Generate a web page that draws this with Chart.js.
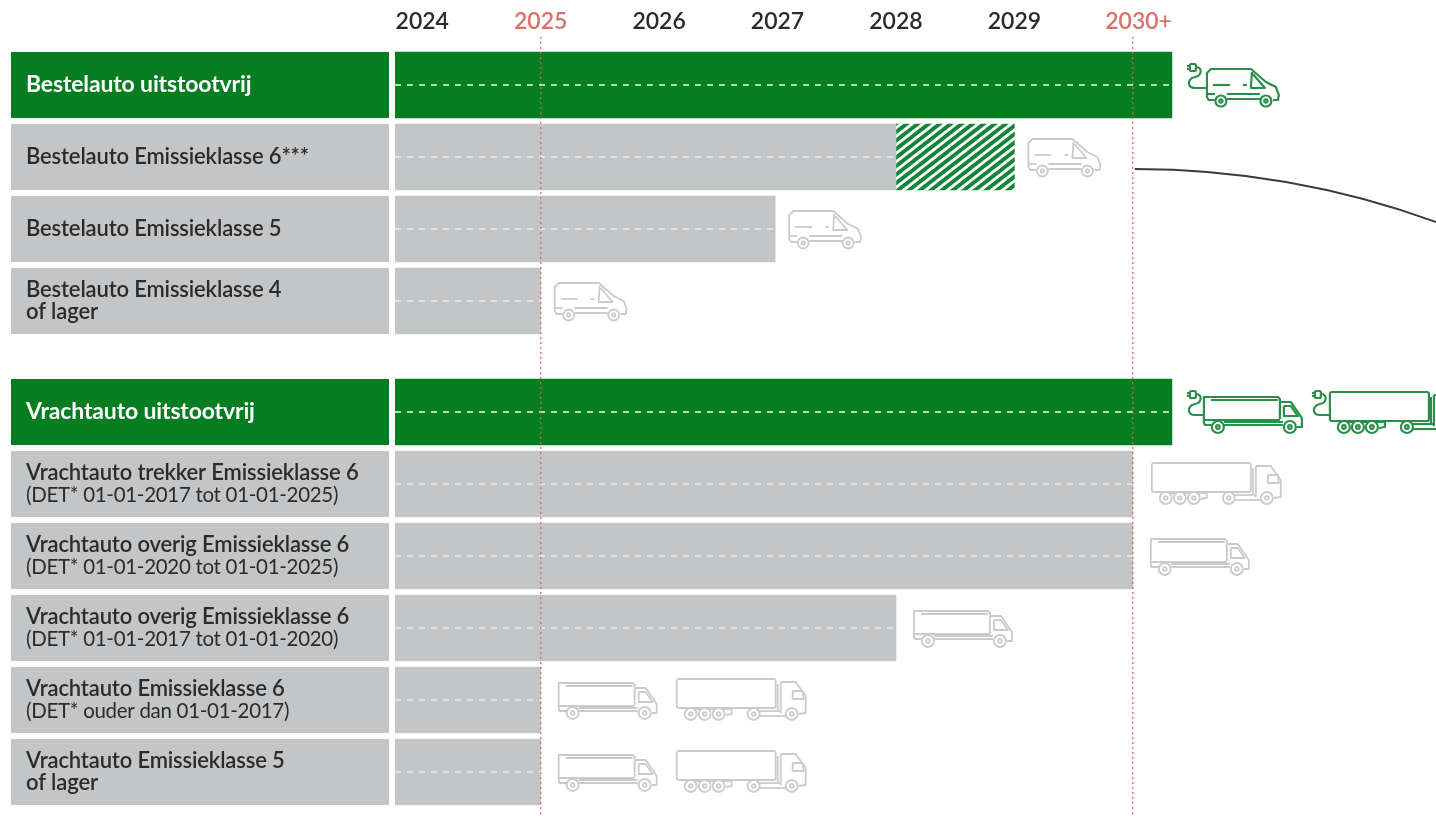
<!DOCTYPE html>
<html lang="nl">
<head>
    <meta charset="UTF-8">
    <title>Uitstootvrije zones - toegang per voertuig</title>
    <style>
        body {
            margin: 0;
            background-color: #ffffff;
            overflow: hidden;
        }
        canvas { display: block; }
    </style>
</head>
<body>
<canvas id="zoneChart" width="1436" height="816"></canvas>

<script src="https://cdn.jsdelivr.net/npm/chart.js"></script>
<script>
    const categories = [
        ['Bestelauto uitstootvrij'],
        ['Bestelauto Emissieklasse 6***'],
        ['Bestelauto Emissieklasse 5'],
        ['Bestelauto Emissieklasse 4', 'of lager'],
        ['Vrachtauto uitstootvrij'],
        ['Vrachtauto trekker Emissieklasse 6', '(DET* 01-01-2017 tot 01-01-2025)'],
        ['Vrachtauto overig Emissieklasse 6', '(DET* 01-01-2020 tot 01-01-2025)'],
        ['Vrachtauto overig Emissieklasse 6', '(DET* 01-01-2017 tot 01-01-2020)'],
        ['Vrachtauto Emissieklasse 6', '(DET* ouder dan 01-01-2017)'],
        ['Vrachtauto Emissieklasse 5', 'of lager']
    ];
    const rowGroup = [0, 0, 0, 0, 1, 1, 1, 1, 1, 1];
    const zeroEmission = [true, false, false, false, true, false, false, false, false, false];

    // laatste jaar van toegang per rij
    const accessUntil = [2030.33, 2028, 2026.98, 2025, 2030.33, 2030, 2030, 2028, 2025, 2025];
    const hatchedRow = 1;
    const hatchedUntil = 2029;

    const years = [2024, 2025, 2026, 2027, 2028, 2029, 2030];
    const yearLabels = ['2024', '2025', '2026', '2027', '2028', '2029', '\u20022030+'];
    const markedYears = [2025, 2030];

    const rowIcons = [
        ['evVan'], ['van'], ['van'], ['van'],
        ['evTruck', 'evTractor'], ['tractor'], ['truck'], ['truck'],
        ['truck', 'tractor'], ['truck', 'tractor']
    ];

    const GREEN = '#067d20';
    const GREY = '#c4c5c7';
    const RED = 'rgba(214, 98, 92, 0.8)';
    const ICON_GREY = '#cbcbcb';
    const ICON_GREEN = '#2a8f4a';

    const AXIS_START = 2023.77;
    const AXIS_END = 2032.56;
    const GROUP_GAP = 0.5417;
    const BAR_HEIGHT = 66;

    const rowSlots = rowGroup.map((g, i) => i + g * GROUP_GAP);

    // schuine groene strepen voor de overgangsperiode
    function hatchPattern() {
        const tile = document.createElement('canvas');
        tile.width = 22;
        tile.height = 17;
        const c = tile.getContext('2d');
        c.fillStyle = '#ffffff';
        c.fillRect(0, 0, 22, 17);
        c.strokeStyle = '#12853a';
        c.lineWidth = 3.8;
        [-33, -22, -11, 0, 11, 22, 33].forEach(d => {
            c.beginPath();
            c.moveTo(d - 22, 34);
            c.lineTo(d + 44, -17);
            c.stroke();
        });
        return c.createPattern(tile, 'repeat');
    }

    function line(c, pts) {
        c.beginPath();
        pts.forEach((p, i) => i ? c.lineTo(p[0], p[1]) : c.moveTo(p[0], p[1]));
        c.stroke();
    }

    function wheel(c, x, y, r) {
        c.save();
        c.fillStyle = '#ffffff';
        c.beginPath();
        c.arc(x, y, r, 0, Math.PI * 2);
        c.fill();
        c.stroke();
        c.beginPath();
        c.arc(x, y, r * 0.3, 0, Math.PI * 2);
        c.stroke();
        c.restore();
    }

    // pictogrammen: x links, cy midden van de rij
    function drawVan(c, x, cy) {
        c.save();
        c.translate(x, cy - 19);
        line(c, [[9, 32], [3, 32], [1, 29], [1, 5], [5, 1], [45, 1], [60, 14], [70, 19], [73, 27], [72, 32], [67, 32]]);
        line(c, [[21, 26], [54, 26]]);
        line(c, [[21, 31], [54, 31]]);
        line(c, [[1, 26], [9, 26]]);
        line(c, [[46, 4], [45, 20], [59, 20], [47, 6]]);
        line(c, [[7, 17], [24, 17]]);
        line(c, [[37, 17], [41, 17]]);
        wheel(c, 15, 33, 5.5);
        wheel(c, 60, 33, 5.5);
        c.restore();
    }

    function drawTruck(c, x, cy) {
        c.save();
        c.translate(x, cy - 19);
        line(c, [[9, 30], [2, 30], [1, 28], [1, 2], [75, 2], [77, 4], [77, 24]]);
        line(c, [[8, 5], [75, 5]]);
        line(c, [[1, 25], [77, 25]]);
        line(c, [[21, 30], [80, 30]]);
        line(c, [[21, 27], [80, 27]]);
        line(c, [[77, 7], [88, 7], [99, 23], [99, 32], [94, 32]]);
        line(c, [[81, 11], [88, 11], [95, 21], [81, 21], [81, 11]]);
        wheel(c, 15, 32, 6);
        wheel(c, 87, 32, 6);
        c.restore();
    }

    function drawTractor(c, x, cy) {
        c.save();
        c.translate(x, cy - 22);
        c.beginPath();
        c.roundRect(1, 1, 99, 29, 2);
        c.stroke();
        line(c, [[102, 6], [102, 32]]);
        line(c, [[105, 4], [105, 35]]);
        line(c, [[105, 4], [120, 4], [130, 18], [130, 35], [123, 36]]);
        line(c, [[117, 13], [127, 13], [128, 21], [117, 21], [117, 13]]);
        line(c, [[20, 31], [56, 31], [56, 36], [50, 37]]);
        line(c, [[84, 38], [110, 38]]);
        line(c, [[84, 33], [105, 33]]);
        [15, 29, 43, 78, 116].forEach(w => wheel(c, w, 36, 6));
        c.restore();
    }

    function drawPlug(c, x, cy, toX) {
        c.save();
        c.translate(x, cy);
        c.beginPath();
        c.roundRect(3, -21, 6, 7, 1.5);
        c.stroke();
        line(c, [[0, -19], [3, -19]]);
        line(c, [[0, -16], [3, -16]]);
        c.beginPath();
        c.moveTo(9, -18);
        c.bezierCurveTo(16, -18, 15, -9, 8, -8);
        c.bezierCurveTo(0, -6, 0, 3, 8, 3);
        c.lineTo(toX, 3);
        c.stroke();
        c.restore();
    }

    const iconTypes = {
        van: { width: 73, gap: 13, draw: drawVan },
        truck: { width: 100, gap: 17, draw: drawTruck },
        tractor: { width: 131, gap: 18, draw: drawTractor },
        evVan: { width: 93, gap: 15, green: true, draw: (c, x, cy) => { drawPlug(c, x, cy, 19); drawVan(c, x + 19, cy + 2); } },
        evTruck: { width: 117, gap: 15, green: true, draw: (c, x, cy) => { drawPlug(c, x, cy, 17); drawTruck(c, x + 16, cy + 2); } },
        evTractor: { width: 148, gap: 8, green: true, draw: (c, x, cy) => { drawPlug(c, x, cy, 18); drawTractor(c, x + 17, cy + 1); } }
    };

    // rijkoppen links, stippellijnen in de balken en voertuigen erachter
    const decorations = {
        id: 'decorations',
        beforeDraw(chart) {
            const c = chart.ctx;
            const y = chart.scales.y;
            c.save();
            rowSlots.forEach((slot, i) => {
                c.fillStyle = zeroEmission[i] ? GREEN : GREY;
                c.fillRect(11, y.getPixelForValue(slot) - BAR_HEIGHT / 2, 378, BAR_HEIGHT);
            });
            c.textBaseline = 'middle';
            c.textAlign = 'left';
            rowSlots.forEach((slot, i) => {
                const py = y.getPixelForValue(slot);
                const lines = categories[i];
                c.fillStyle = zeroEmission[i] ? '#ffffff' : '#2b2b2b';
                lines.forEach((text, n) => {
                    const isNote = text.startsWith('(');
                    c.font = zeroEmission[i] ? '700 23px Lato' : (isNote ? '400 20.5px Lato' : '600 22px Lato');
                    c.letterSpacing = isNote ? '-0.3px' : '-0.15px';
                    c.fillText(text, 26, py + (n - (lines.length - 1) / 2) * 22);
                });
            });
            c.restore();
        },
        afterDatasetsDraw(chart) {
            const c = chart.ctx;
            const x = chart.scales.x;
            const y = chart.scales.y;
            c.save();
            c.lineWidth = 2;
            c.setLineDash([6, 6]);
            rowSlots.forEach((slot, i) => {
                const py = y.getPixelForValue(slot);
                c.strokeStyle = zeroEmission[i] ? 'rgba(190, 235, 200, 0.9)' : 'rgba(255, 255, 255, 0.5)';
                line(c, [[x.getPixelForValue(AXIS_START), py], [x.getPixelForValue(accessUntil[i]), py]]);
            });
            c.setLineDash([]);

            rowSlots.forEach((slot, i) => {
                const py = y.getPixelForValue(slot);
                let px = x.getPixelForValue(i === hatchedRow ? hatchedUntil : accessUntil[i]);
                rowIcons[i].forEach(name => {
                    const icon = iconTypes[name];
                    px += icon.gap;
                    c.strokeStyle = icon.green ? ICON_GREEN : ICON_GREY;
                    c.lineWidth = icon.green ? 2.2 : 1.8;
                    c.lineJoin = 'round';
                    icon.draw(c, px, py);
                    px += icon.width;
                });
            });

            // verwijslijn vanaf de 2030-lijn
            const sx = x.getPixelForValue(2030) + 2;
            const sy = y.getPixelForValue(rowSlots[hatchedRow]) + 12;
            c.strokeStyle = '#3a3a3a';
            c.lineWidth = 2;
            c.beginPath();
            c.moveTo(sx, sy);
            c.quadraticCurveTo(sx + 165, sy, sx + 320, sy + 60);
            c.stroke();
            c.restore();
        }
    };

    new Chart(document.getElementById('zoneChart'), {
        data: {
            datasets: [{
                type: 'bar',
                label: 'Toegang',
                data: rowSlots.map((slot, i) => ({ x: [AXIS_START, accessUntil[i]], y: slot })),
                backgroundColor: rowSlots.map((s, i) => zeroEmission[i] ? GREEN : GREY),
                barThickness: BAR_HEIGHT,
                grouped: false
            }, {
                type: 'bar',
                label: 'Overgang',
                data: [{ x: [accessUntil[hatchedRow], hatchedUntil], y: rowSlots[hatchedRow] }],
                backgroundColor: hatchPattern(),
                barThickness: BAR_HEIGHT,
                grouped: false
            }]
        },
        plugins: [decorations],
        options: {
            indexAxis: 'y',
            responsive: false,
            animation: false,
            layout: { padding: { left: 26, top: 0, right: 0, bottom: 0 } },
            plugins: {
                legend: { display: false },
                tooltip: { enabled: false }
            },
            scales: {
                x: {
                    type: 'linear',
                    position: 'top',
                    min: AXIS_START,
                    max: AXIS_END,
                    afterBuildTicks: scale => { scale.ticks = years.map(value => ({ value })); },
                    afterFit: scale => { scale.height = 37; },
                    border: { display: false, dash: [2, 3] },
                    grid: {
                        z: 1,
                        drawTicks: false,
                        lineWidth: 1.5,
                        color: ctx => markedYears.includes(ctx.tick && ctx.tick.value) ? RED : 'transparent'
                    },
                    ticks: {
                        autoSkip: false,
                        maxRotation: 0,
                        padding: 2,
                        callback: (value, index) => yearLabels[index],
                        color: ctx => markedYears.includes(ctx.tick.value) ? '#d9706a' : '#2b2b2b',
                        font: { family: 'Lato', size: 23, weight: '600' }
                    }
                },
                y: {
                    type: 'linear',
                    reverse: true,
                    offset: false,
                    min: -0.667,
                    max: 10.153,
                    afterBuildTicks: scale => { scale.ticks = rowSlots.map(value => ({ value })); },
                    afterFit: scale => { scale.width = 369; },
                    border: { display: false },
                    grid: { display: false },
                    ticks: { display: false }
                }
            }
        }
    });
</script>
</body>
</html>
